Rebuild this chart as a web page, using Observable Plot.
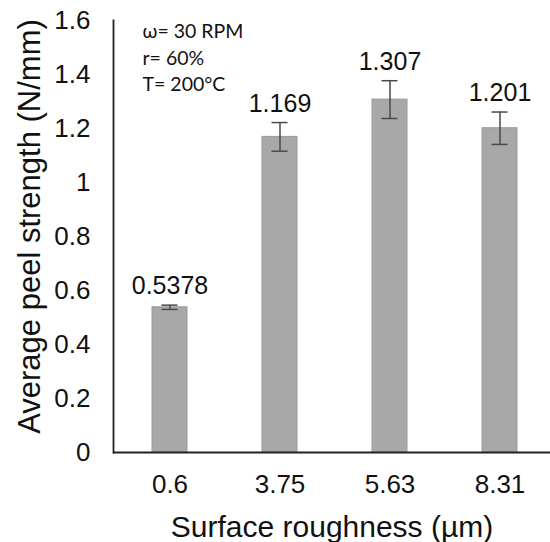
<!DOCTYPE html>
<html>
<head>
<meta charset="utf-8">
<script src="https://cdn.jsdelivr.net/npm/d3@7"></script>
<script src="https://cdn.jsdelivr.net/npm/@observablehq/plot@0.6"></script>
<style>
  html, body { margin: 0; padding: 0; background: #fff; }
  svg { display: block; }
</style>
</head>
<body>
<div id="chart"></div>
<script>
const categories = ["0.6", "3.75", "5.63", "8.31"];
const values = [0.5378, 1.169, 1.307, 1.201];
const errors = [0.008, 0.053, 0.07, 0.06];
const valueLabels = ["0.5378", "1.169", "1.307", "1.201"];
const yTicks = [0, 0.2, 0.4, 0.6, 0.8, 1, 1.2, 1.4, 1.6];
const conditions = ["ω= 30 RPM", "r= 60%", "T= 200°C"];

const data = categories.map((c, i) => ({
  cat: c, v: values[i], e: errors[i], label: valueLabels[i]
}));

const font = "'Liberation Sans', Arial, sans-serif";

const chart = Plot.plot({
  width: 550,
  height: 542,
  marginTop: 20,
  marginBottom: 90,
  marginLeft: 113,
  marginRight: 0,
  style: { fontFamily: font, color: "#111", background: "#fff", overflow: "hidden" },
  x: { domain: categories, range: [113, 556], paddingInner: 0.68, paddingOuter: 0.34 },
  y: { domain: [0, 1.6] },
  marks: [
    Plot.barY(data, { x: "cat", y: "v", fill: "#a8a8a8", stroke: "#9a9a9a", strokeWidth: 1 }),
    Plot.ruleX(data, { x: "cat", y1: d => d.v - d.e, y2: d => d.v + d.e, stroke: "#4a4a4a", strokeWidth: 1.5 }),
    Plot.tickY(data, { x: "cat", y: d => d.v + d.e, stroke: "#4a4a4a", strokeWidth: 1.5, insetLeft: 9.5, insetRight: 9.5 }),
    Plot.tickY(data, { x: "cat", y: d => d.v - d.e, stroke: "#4a4a4a", strokeWidth: 1.5, insetLeft: 9.5, insetRight: 9.5 }),
    Plot.text(data, { x: "cat", y: d => d.v + d.e, text: "label", dy: -19, fontSize: 25, fill: "#111", lineAnchor: "middle" }),
    Plot.axisY({ ticks: yTicks, tickFormat: d => String(d), tickSize: 0, tickPadding: 23, fontSize: 26, label: null, fill: "#111" }),
    Plot.axisX({ tickSize: 0, tickPadding: 22, fontSize: 26, label: null, fill: "#111" }),
    Plot.ruleY([0], { stroke: "#222", strokeWidth: 1.8 }),
    Plot.frame({ anchor: "left", stroke: "#222", strokeWidth: 1.8 }),
    Plot.text(["Average peel strength (N/mm)"], { frameAnchor: "left", textAnchor: "middle", rotate: -90, dx: -83, dy: -10, fontSize: 31, fill: "#111", lineAnchor: "middle" }),
    Plot.text(["Surface roughness (µm)"], { frameAnchor: "bottom", textAnchor: "middle", dy: 75, fontSize: 30, fill: "#111", lineAnchor: "middle" }),
    Plot.text([conditions.join("\n")], { frameAnchor: "top-left", dx: 29, dy: -1.5, lineAnchor: "top", textAnchor: "start", fontSize: 19.5, lineHeight: 1.37, fontFamily: "Lato, 'Open Sans', sans-serif", fill: "#111" })
  ]
});

document.getElementById("chart").appendChild(chart);
</script>
</body>
</html>
